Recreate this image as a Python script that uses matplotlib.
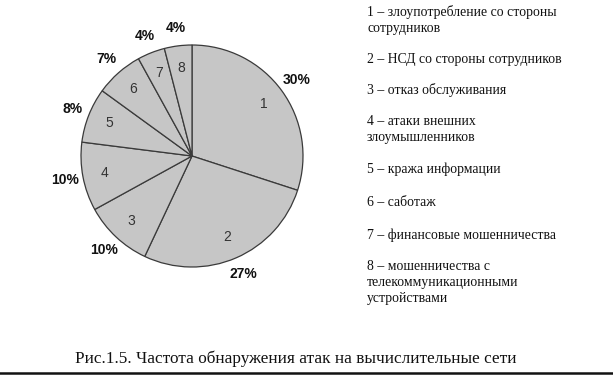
import numpy as np
import matplotlib
matplotlib.use("Agg")
import matplotlib.pyplot as plt
from matplotlib.lines import Line2D

# Частота обнаружения атак (в процентах)
values = [30, 27, 10, 10, 8, 7, 4, 4]
numbers = ['1', '2', '3', '4', '5', '6', '7', '8']
pct_labels = ['30%', '27%', '10%', '10%', '8%', '7%', '4%', '4%']

legend_items = [
    "1 – злоупотребление со стороны\nсотрудников",
    "2 – НСД со стороны сотрудников",
    "3 – отказ обслуживания",
    "4 – атаки внешних\nзлоумышленников",
    "5 – кража информации",
    "6 – саботаж",
    "7 – финансовые мошенничества",
    "8 – мошенничества с\nтелекоммуникационными\nустройствами",
]
legend_y = [12, 60, 90, 122, 170, 203, 235, 267]   # пиксели сверху

caption = "Рис.1.5. Частота обнаружения атак на вычислительные сети"

W, H = 613, 375
fig = plt.figure(figsize=(W / 100, H / 100), dpi=100)

# круговая диаграмма
cx, cy, r = 192, 156, 111
ax = fig.add_axes([(cx - r) / W, (H - cy - r) / H, 2 * r / W, 2 * r / H])
wedges, texts = ax.pie(values, labels=pct_labels, startangle=90, counterclock=False,
                       labeldistance=1.16, radius=1,
                       colors=['#c6c6c6'] * len(values),
                       wedgeprops=dict(edgecolor='#3a3a3a', linewidth=0.9),
                       textprops=dict(family='Liberation Sans', fontsize=10,
                                      color='#111111', fontweight='bold'))
for t in texts:
    t.set_horizontalalignment('center')
    t.set_verticalalignment('center')

# номера внутри секторов
for w, n in zip(wedges, numbers):
    ang = np.deg2rad((w.theta1 + w.theta2) / 2)
    d = 0.8
    ax.text(d * np.cos(ang), d * np.sin(ang), n, ha='center', va='center',
            family='Liberation Sans', fontsize=10, color='#333333')

ax.set_xlim(-1, 1)
ax.set_ylim(-1, 1)
ax.set_aspect('equal')
ax.axis('off')

# пояснения справа
for txt, y in zip(legend_items, legend_y):
    fig.text(367 / W, 1 - (y - 7) / H, txt, ha='left', va='top',
             family='Liberation Serif', fontsize=9.9, color='#111111',
             linespacing=1.3)

# подпись рисунка
fig.text(296 / W, 1 - 359 / H, caption, ha='center', va='center',
         family='Liberation Serif', fontsize=12.4, color='#111111')
fig.add_artist(Line2D([0, 1], [1 - 372.5 / H] * 2, transform=fig.transFigure,
                      color='#111111', linewidth=1.8))

fig.savefig('out.png', dpi=100, facecolor='white')
